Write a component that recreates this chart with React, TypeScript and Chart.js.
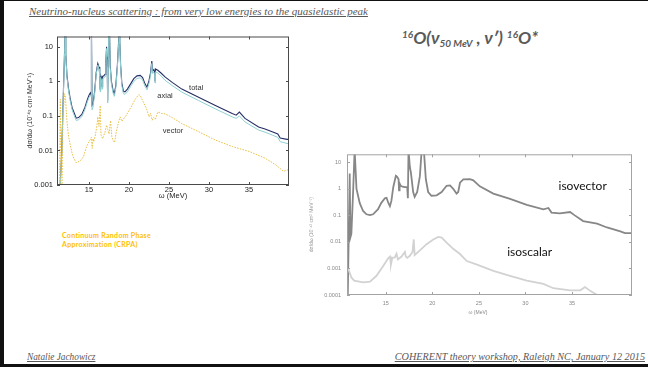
import React, { useEffect, useRef } from 'react';
import { Chart, registerables } from 'chart.js';

Chart.register(...registerables);

// ---- CRPA cross sections for 16O (left panel), 10^-42 cm^2 MeV^-1 ----
// excitation energy grid shared by the total and axial curves (MeV)
const omegaTotal = [
  11.35, 11.6, 11.8, 11.95, 12.02, 12.1, 12.25, 12.45, 12.66, 12.9, 13.1, 13.4, 13.7, 14.1, 14.5, 14.8,
  15.0, 15.17, 15.25, 15.28, 15.33, 15.38, 15.5, 15.7, 15.9, 16.1, 16.25, 16.35, 16.4, 16.45, 16.55, 16.65,
  16.7, 16.85, 17.0, 17.1, 17.2, 17.28, 17.33, 17.4, 17.45, 17.55, 17.65, 17.8, 18.0, 18.16, 18.35, 18.55,
  18.7, 18.78, 18.85, 18.95, 19.1, 19.3, 19.5, 19.8, 20.2, 20.6, 21.0, 21.4, 21.7, 22.0, 22.25, 22.5,
  22.7, 22.85, 22.95, 23.1, 23.2, 23.25, 23.3, 23.6, 24.0, 24.5, 25.4, 26.6, 28.7, 30.8, 32.9, 33.4,
  33.8, 34.5, 36.2, 37.0, 37.9, 38.6, 38.9, 39.75, 40.0,
];
const sigmaTotal = [
  0.0006, 0.01, 0.5, 8, 40, 6, 1.45, 0.6, 0.31, 0.17, 0.13, 0.086, 0.09, 0.11, 0.18, 0.3,
  0.4, 0.47, 0.42, 40, 40, 0.2, 0.22, 0.5, 1.8, 3.3, 2.6, 1.6, 0.6, 1.5, 1.3, 0.7,
  1.4, 1.45, 1.6, 3.5, 10, 3, 0.28, 5, 40, 40, 3, 1.0, 0.55, 0.44, 0.75, 3,
  14, 25, 14, 3, 0.9, 0.52, 0.5, 0.6, 0.85, 1.2, 1.45, 1.5, 1.3, 0.85, 0.68, 1.05,
  1.8, 3.9, 2.0, 2.2, 1.9, 1.05, 2.3, 2.1, 1.75, 1.35, 0.94, 0.6, 0.35, 0.2, 0.117, 0.105,
  0.13, 0.085, 0.048, 0.042, 0.035, 0.03, 0.023, 0.021, 0.021,
];
const sigmaAxial = [
  0.0005, 0.009, 0.45, 7, 40, 5.5, 1.3, 0.52, 0.27, 0.15, 0.11, 0.074, 0.078, 0.095, 0.155, 0.26,
  0.34, 0.4, 0.36, 40, 30, 0.15, 0.18, 0.43, 1.6, 3.0, 2.3, 1.4, 0.5, 1.3, 1.1, 0.6,
  1.2, 1.25, 1.4, 3.1, 9, 2.6, 0.24, 4.5, 40, 40, 2.6, 0.85, 0.47, 0.37, 0.64, 2.6,
  12, 22, 12, 2.6, 0.77, 0.44, 0.42, 0.5, 0.72, 1.0, 1.22, 1.27, 1.1, 0.72, 0.57, 0.88,
  1.5, 3.3, 1.7, 1.85, 1.6, 0.9, 1.9, 1.75, 1.45, 1.08, 0.76, 0.49, 0.28, 0.16, 0.094, 0.085,
  0.1, 0.067, 0.039, 0.034, 0.028, 0.024, 0.018, 0.016, 0.016,
];
const omegaVector = [
  11.3, 11.42, 11.5, 11.62, 11.75, 11.95, 12.05, 12.25, 12.45, 12.66, 12.9, 13.1, 13.4, 13.9, 14.3, 14.7,
  15.05, 15.2, 15.3, 15.4, 15.5, 15.6, 15.8, 16.0, 16.1, 16.25, 16.4, 16.5, 16.7, 17.0, 17.2, 17.35,
  17.5, 17.7, 17.85, 18.0, 18.2, 18.4, 18.7, 18.9, 19.1, 19.6, 20.25, 20.8, 21.2, 21.4, 21.8, 22.2,
  22.5, 22.7, 22.9, 23.1, 23.3, 23.6, 24.1, 24.5, 25.4, 26.6, 28.7, 30.8, 32.9, 35.0, 37.0, 38.3,
  39.3, 40.0,
];
const sigmaVector = [
  0.0005, 0.3, 0.0005, 0.0005, 0.1, 0.44, 0.35, 0.067, 0.025, 0.0145, 0.008, 0.006, 0.0044, 0.005, 0.0066, 0.013,
  0.019, 0.021, 0.024, 0.0115, 0.022, 0.018, 0.028, 0.054, 0.094, 0.05, 0.2, 0.028, 0.022, 0.034, 0.054, 0.04,
  0.03, 0.073, 0.025, 0.02, 0.017, 0.034, 0.067, 0.094, 0.07, 0.1, 0.18, 0.31, 0.41, 0.39, 0.25, 0.16,
  0.094, 0.12, 0.075, 0.09, 0.08, 0.13, 0.117, 0.115, 0.09, 0.06, 0.035, 0.02, 0.013, 0.0094, 0.006, 0.0039,
  0.0025, 0.0028,
];

// ---- isospin decomposition (right panel) ----
const omegaIsovector = [
  10.9, 11.12, 11.2, 11.3, 11.5, 11.65, 11.85, 12.2, 12.56, 12.92, 13.3, 13.63, 14.17, 14.5, 14.9, 15.08,
  15.26, 15.44, 15.6, 15.8, 16.08, 16.2, 16.37, 16.42, 16.48, 16.6, 16.8, 17.05, 17.3, 17.37, 17.44, 17.58,
  17.7, 17.94, 18.1, 18.37, 18.66, 18.84, 19.1, 19.3, 19.55, 19.9, 20.46, 21.0, 21.53, 21.9, 22.24, 22.6,
  22.78, 22.97, 23.33, 24.04, 24.4, 25.1, 26.55, 28.35, 30.15, 31.93, 32.47, 32.8, 33.7, 34.8, 35.3, 36.2,
  37.7, 38.76, 40.2, 40.7, 41.45,
];
const sigmaIsovector = [
  0.00005, 3.8, 0.015, 0.02, 1, 30, 1.0, 0.29, 0.146, 0.11, 0.103, 0.11, 0.17, 0.29, 0.44, 0.46,
  0.3, 0.22, 0.35, 1.15, 3.1, 2.9, 2.3, 0.87, 1.6, 1.3, 1.2, 1.15, 1.15, 0.44, 30, 6.8,
  4, 0.76, 0.5, 0.76, 3, 25, 25, 2.3, 0.76, 0.55, 0.57, 0.76, 1.3, 1.35, 1.0, 0.66,
  0.76, 1.7, 2.27, 2.3, 2.1, 1.24, 0.66, 0.42, 0.25, 0.17, 0.19, 0.128, 0.118, 0.134, 0.1, 0.061,
  0.049, 0.035, 0.025, 0.0216, 0.0216,
];
const omegaIsoscalar = [
  10.95, 11.3, 11.6, 12.56, 13.3, 14.0, 14.7, 15.25, 15.45, 15.55, 15.7, 15.97, 16.15, 16.3, 16.69, 17.05,
  17.15, 17.3, 17.58, 17.87, 18.0, 18.1, 18.66, 19.38, 20.1, 20.63, 21.0, 21.53, 22.24, 22.97, 23.7, 24.8,
  26.55, 28.35, 30.15, 31.93, 33.0, 34.8, 35.9, 36.4, 37.0, 37.7, 38.5,
];
const sigmaIsoscalar = [
  0.001, 0.00046, 0.00035, 0.0003, 0.00032, 0.00053, 0.0012, 0.0024, 0.0028, 0.0014, 0.0025, 0.0026, 0.0036, 0.0022, 0.0028, 0.0042,
  0.0028, 0.0025, 0.003, 0.0042, 0.0124, 0.0032, 0.0048, 0.0082, 0.0124, 0.0155, 0.0145, 0.0094, 0.0055, 0.0035, 0.0019, 0.0014,
  0.00081, 0.00053, 0.00035, 0.00026, 0.00018, 0.00015, 0.00015, 0.0002, 0.00014, 0.0001, 0.00008,
];

// ---- axis ticks ----
const omegaTicks = [15, 20, 25, 30, 35];
const omegaTickLabels = ['15', '20', '25', '30', '35'];
const crpaTicks = [0.001, 0.01, 0.1, 1, 10];
const crpaTickLabels = ['0.001', '0.01', '0.1', '1', '10'];
const isospinTicks = [0.0001, 0.001, 0.01, 0.1, 1, 10];
const isospinTickLabels = ['0.0001', '0.001', '0.01', '0.1', '1', '10'];

const sigmaTitle = 'dσ/dω (10⁻⁴² cm² MeV⁻¹)';
const omegaTitle = 'ω (MeV)';

const pts = (xs: number[], ys: number[]) => xs.map((x, i) => ({ x, y: ys[i] }));

// box round the plot area with short inward tick marks
const framePlugin = {
  id: 'frame',
  afterDatasetsDraw(chart: any, _args: any, opts: any) {
    const { ctx, chartArea, scales } = chart;
    const { left, top, right, bottom } = chartArea;
    ctx.save();
    ctx.strokeStyle = opts.color;
    ctx.lineWidth = opts.width;
    ctx.strokeRect(left + 0.5, top + 0.5, right - left - 1, bottom - top - 1);
    ctx.beginPath();
    for (const t of scales.x.ticks) {
      const p = Math.round(scales.x.getPixelForValue(t.value)) + 0.5;
      ctx.moveTo(p, bottom);
      ctx.lineTo(p, bottom - opts.tick);
      ctx.moveTo(p, top);
      ctx.lineTo(p, top + opts.tick);
    }
    for (const t of scales.y.ticks) {
      const p = Math.round(scales.y.getPixelForValue(t.value)) + 0.5;
      ctx.moveTo(left, p);
      ctx.lineTo(left + opts.tick, p);
      ctx.moveTo(right, p);
      ctx.lineTo(right - opts.tick, p);
    }
    ctx.stroke();
    ctx.restore();
  },
};

// curve names and other text placed in data space
const notesPlugin = {
  id: 'notes',
  afterDatasetsDraw(chart: any, _args: any, opts: any) {
    const { ctx, chartArea, scales } = chart;
    ctx.save();
    ctx.textAlign = 'center';
    ctx.textBaseline = 'middle';
    for (const n of opts.items) {
      ctx.font = n.font;
      ctx.fillStyle = n.color;
      const px = scales.x.getPixelForValue(n.x);
      const py = n.below != null ? chartArea.bottom + n.below : scales.y.getPixelForValue(n.y);
      ctx.fillText(n.text, px, py);
    }
    ctx.restore();
  },
};

const helv = 'Liberation Sans, Arial, sans-serif';
const noGrid = { display: false, drawTicks: false, tickLength: 0 };

function crpaConfig(): any {
  return {
    type: 'line',
    data: {
      datasets: [
        { label: 'vector', data: pts(omegaVector, sigmaVector), borderColor: '#e8c24c', borderWidth: 1, borderDash: [1.6, 1.2], pointRadius: 0, tension: 0 },
        { label: 'axial', data: pts(omegaTotal, sigmaAxial), borderColor: '#8fd0d0', borderWidth: 1, pointRadius: 0, tension: 0 },
        { label: 'total', data: pts(omegaTotal, sigmaTotal), borderColor: '#262f66', borderWidth: 1.1, pointRadius: 0, tension: 0 },
      ],
    },
    options: {
      responsive: false,
      animation: false,
      events: [],
      layout: { padding: { left: 0, top: 7, right: 11, bottom: 0 } },
      plugins: {
        legend: { display: false },
        tooltip: { enabled: false },
        frame: { color: '#4a4a4a', width: 1, tick: 3 },
        notes: {
          items: [
            { text: 'total', x: 28.4, y: 0.65, font: `7.5px ${helv}`, color: '#333' },
            { text: 'axial', x: 24.5, y: 0.39, font: `7.5px ${helv}`, color: '#333' },
            { text: 'vector', x: 25.5, y: 0.037, font: `7.5px ${helv}`, color: '#333' },
          ],
        },
      },
      scales: {
        x: {
          type: 'linear',
          min: 11,
          max: 40,
          afterBuildTicks: (s: any) => { s.ticks = omegaTicks.map((value) => ({ value })); },
          afterFit: (s: any) => { s.height = 23; },
          grid: noGrid,
          border: { display: false },
          ticks: {
            autoSkip: false,
            maxRotation: 0,
            padding: 0,
            color: '#222',
            font: { family: helv, size: 7.5 },
            callback: (v: number) => omegaTickLabels[omegaTicks.indexOf(v)] ?? '',
          },
          title: { display: true, text: omegaTitle, color: '#222', font: { family: helv, size: 7.5 }, padding: { top: 0, bottom: 7.5 } },
        },
        y: {
          type: 'logarithmic',
          min: 0.001,
          max: 20,
          afterBuildTicks: (s: any) => { s.ticks = crpaTicks.map((value) => ({ value })); },
          afterFit: (s: any) => { s.width = 37; },
          grid: noGrid,
          border: { display: false },
          ticks: {
            autoSkip: false,
            padding: 4,
            color: '#222',
            font: { family: helv, size: 7.5 },
            callback: (v: number) => crpaTickLabels[crpaTicks.indexOf(v)] ?? '',
          },
          title: { display: true, text: sigmaTitle, color: '#333', font: { family: helv, size: 7 }, padding: { top: 5.5, bottom: 0 } },
        },
      },
    },
    plugins: [framePlugin, notesPlugin],
  };
}

function isospinConfig(): any {
  return {
    type: 'line',
    data: {
      datasets: [
        { label: 'isoscalar', data: pts(omegaIsoscalar, sigmaIsoscalar), borderColor: '#d2d2d2', borderWidth: 1.8, pointRadius: 0, tension: 0 },
        { label: 'isovector', data: pts(omegaIsovector, sigmaIsovector), borderColor: '#878787', borderWidth: 1.8, pointRadius: 0, tension: 0 },
      ],
    },
    options: {
      responsive: false,
      animation: false,
      events: [],
      layout: { padding: { left: 0, top: 7, right: 6, bottom: 0 } },
      plugins: {
        legend: { display: false },
        tooltip: { enabled: false },
        frame: { color: '#a3a3a3', width: 1, tick: 3 },
        notes: {
          items: [
            { text: 'isovector', x: 36.15, y: 1.25, font: '12px Lato, Carlito, sans-serif', color: '#111' },
            { text: 'isoscalar', x: 30.45, y: 0.0042, font: '12px Lato, Carlito, sans-serif', color: '#111' },
            { text: omegaTitle, x: 24.9, below: 17.5, font: `5px ${helv}`, color: '#888' },
          ],
        },
      },
      scales: {
        x: {
          type: 'linear',
          min: 10.83,
          max: 41.45,
          afterBuildTicks: (s: any) => { s.ticks = omegaTicks.map((value) => ({ value })); },
          afterFit: (s: any) => { s.height = 25; },
          grid: noGrid,
          border: { display: false },
          ticks: {
            autoSkip: false,
            maxRotation: 0,
            padding: 5,
            color: '#888',
            font: { family: helv, size: 5.5 },
            callback: (v: number) => omegaTickLabels[omegaTicks.indexOf(v)] ?? '',
          },
          title: { display: false },
        },
        y: {
          type: 'logarithmic',
          min: 0.0001,
          max: 20,
          afterBuildTicks: (s: any) => { s.ticks = isospinTicks.map((value) => ({ value })); },
          afterFit: (s: any) => { s.width = 41; },
          grid: noGrid,
          border: { display: false },
          ticks: {
            autoSkip: false,
            padding: 6,
            color: '#888',
            font: { family: helv, size: 5.5 },
            callback: (v: number) => isospinTickLabels[isospinTicks.indexOf(v)] ?? '',
          },
          title: { display: true, text: sigmaTitle, color: '#999', font: { family: helv, size: 5 }, padding: { top: 3, bottom: 0 } },
        },
      },
    },
    plugins: [framePlugin, notesPlugin],
  };
}

function PlotCanvas({ make, left, top, width, height }: { make: () => any; left: number; top: number; width: number; height: number }) {
  const ref = useRef<HTMLCanvasElement>(null);
  useEffect(() => {
    const chart = new Chart(ref.current as HTMLCanvasElement, make());
    return () => chart.destroy();
  }, [make]);
  return (
    <canvas
      ref={ref}
      width={width}
      height={height}
      style={{ position: 'absolute', left, top, width, height }}
    />
  );
}

const serifItalic: React.CSSProperties = {
  position: 'absolute',
  fontFamily: '"Liberation Serif", "Times New Roman", serif',
  fontStyle: 'italic',
  fontSize: 10,
  lineHeight: '12px',
  color: '#575757',
  textDecoration: 'underline',
  whiteSpace: 'nowrap',
};

export default function App() {
  return (
    <div
      style={{
        position: 'fixed',
        left: 0,
        top: 0,
        width: 648,
        height: 369,
        background: '#fff',
        overflow: 'hidden',
      }}
    >
      {/* slide frame */}
      <div style={{ position: 'absolute', left: 0, top: 0, width: 648, height: 1, background: '#111' }} />
      <div style={{ position: 'absolute', left: 0, top: 0, width: 4, height: 367, background: '#111' }} />
      <div style={{ position: 'absolute', left: 0, top: 364, width: 648, height: 3, background: '#111' }} />

      <div style={{ ...serifItalic, left: 29, top: 5, fontSize: 11 }}>
        Neutrino-nucleus scattering : from very low energies to the quasielastic peak
      </div>

      <div
        style={{
          position: 'absolute',
          left: 402,
          top: 28,
          fontFamily: 'Lato, Carlito, sans-serif',
          fontWeight: 700,
          fontStyle: 'italic',
          fontSize: 17.5,
          lineHeight: '20px',
          color: '#5a5a5a',
          whiteSpace: 'nowrap',
        }}
      >
        <span style={{ fontSize: 10, position: 'relative', top: -6 }}>16</span>O(ν
        <span style={{ fontSize: 10, position: 'relative', top: 3 }}>50 MeV</span> , ν′){' '}
        <span style={{ fontSize: 10, position: 'relative', top: -6 }}>16</span>O*
      </div>

      <PlotCanvas make={crpaConfig} left={20} top={28} width={280} height={180} />
      <PlotCanvas make={isospinConfig} left={306} top={145} width={332} height={175} />

      <div
        style={{
          position: 'absolute',
          left: 62,
          top: 231,
          fontFamily: 'Lato, Carlito, sans-serif',
          fontWeight: 700,
          fontSize: 7,
          lineHeight: '8.7px',
          letterSpacing: 0.3,
          color: '#ffc000',
          whiteSpace: 'nowrap',
        }}
      >
        Continuum Random Phase
        <br />
        Approximation (CRPA)
      </div>

      <div style={{ ...serifItalic, left: 27, top: 351, fontSize: 9.3 }}>Natalie Jachowicz</div>
      <div style={{ ...serifItalic, right: 3, top: 351, fontSize: 10.2 }}>
        COHERENT theory workshop, Raleigh NC, January 12 2015
      </div>
    </div>
  );
}
